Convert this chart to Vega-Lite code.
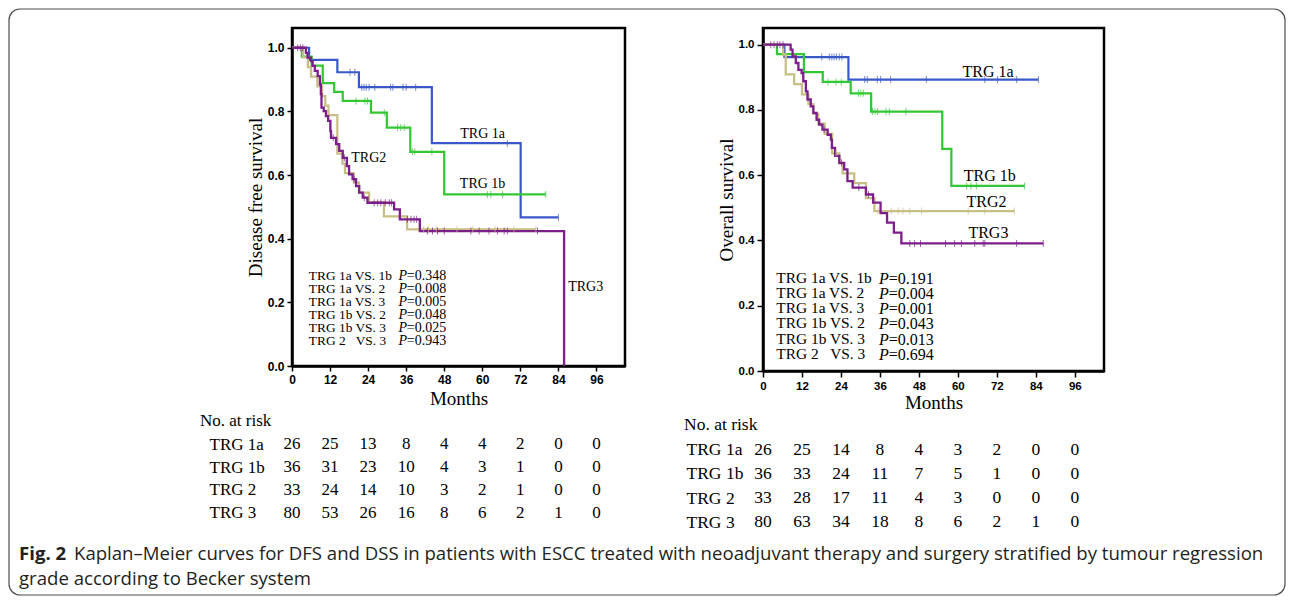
{
  "$schema": "https://vega.github.io/schema/vega-lite/v6.json",
  "padding": {"left": 8, "top": 8, "right": 0, "bottom": 0},
  "background": "white",
  "datasets": {
    "steps": [
      {"panel":"DFS","group":"TRG 1a","t":0,"s":1},{"panel":"DFS","group":"TRG 1a","t":5.4,"s":0.962},{"panel":"DFS","group":"TRG 1a","t":14.3,"s":0.923},{"panel":"DFS","group":"TRG 1a","t":21.1,"s":0.876},{"panel":"DFS","group":"TRG 1a","t":44.1,"s":0.700},{"panel":"DFS","group":"TRG 1a","t":72.1,"s":0.467},{"panel":"DFS","group":"TRG 1a","t":84,"s":0.467},
      {"panel":"DFS","group":"TRG 1b","t":0,"s":1},{"panel":"DFS","group":"TRG 1b","t":3.1,"s":0.972},{"panel":"DFS","group":"TRG 1b","t":6.2,"s":0.944},{"panel":"DFS","group":"TRG 1b","t":9.7,"s":0.889},{"panel":"DFS","group":"TRG 1b","t":13.3,"s":0.861},{"panel":"DFS","group":"TRG 1b","t":16.0,"s":0.833},{"panel":"DFS","group":"TRG 1b","t":24.9,"s":0.796},{"panel":"DFS","group":"TRG 1b","t":29.9,"s":0.749},{"panel":"DFS","group":"TRG 1b","t":37.3,"s":0.673},{"panel":"DFS","group":"TRG 1b","t":48.0,"s":0.539},{"panel":"DFS","group":"TRG 1b","t":80,"s":0.539},
      {"panel":"DFS","group":"TRG 2","t":0,"s":1},{"panel":"DFS","group":"TRG 2","t":3.5,"s":0.970},{"panel":"DFS","group":"TRG 2","t":5.0,"s":0.939},{"panel":"DFS","group":"TRG 2","t":6.0,"s":0.909},{"panel":"DFS","group":"TRG 2","t":8.0,"s":0.879},{"panel":"DFS","group":"TRG 2","t":9.5,"s":0.848},{"panel":"DFS","group":"TRG 2","t":10.5,"s":0.818},{"panel":"DFS","group":"TRG 2","t":11.5,"s":0.788},{"panel":"DFS","group":"TRG 2","t":14.3,"s":0.667},{"panel":"DFS","group":"TRG 2","t":15.9,"s":0.636},{"panel":"DFS","group":"TRG 2","t":16.7,"s":0.606},{"panel":"DFS","group":"TRG 2","t":19.5,"s":0.576},{"panel":"DFS","group":"TRG 2","t":21.1,"s":0.545},{"panel":"DFS","group":"TRG 2","t":24.3,"s":0.515},{"panel":"DFS","group":"TRG 2","t":29.0,"s":0.470},{"panel":"DFS","group":"TRG 2","t":36.3,"s":0.429},{"panel":"DFS","group":"TRG 2","t":76.9,"s":0.429},
      {"panel":"DFS","group":"TRG 3","t":0,"s":1},{"panel":"DFS","group":"TRG 3","t":4.4,"s":0.984},{"panel":"DFS","group":"TRG 3","t":4.9,"s":0.969},{"panel":"DFS","group":"TRG 3","t":6.0,"s":0.958},{"panel":"DFS","group":"TRG 3","t":6.5,"s":0.943},{"panel":"DFS","group":"TRG 3","t":7.2,"s":0.927},{"panel":"DFS","group":"TRG 3","t":8.1,"s":0.911},{"panel":"DFS","group":"TRG 3","t":8.8,"s":0.885},{"panel":"DFS","group":"TRG 3","t":9.1,"s":0.854},{"panel":"DFS","group":"TRG 3","t":9.3,"s":0.812},{"panel":"DFS","group":"TRG 3","t":10.0,"s":0.801},{"panel":"DFS","group":"TRG 3","t":10.7,"s":0.785},{"panel":"DFS","group":"TRG 3","t":11.4,"s":0.770},{"panel":"DFS","group":"TRG 3","t":12.1,"s":0.738},{"panel":"DFS","group":"TRG 3","t":12.3,"s":0.717},{"panel":"DFS","group":"TRG 3","t":13.9,"s":0.697},{"panel":"DFS","group":"TRG 3","t":14.9,"s":0.676},{"panel":"DFS","group":"TRG 3","t":16.0,"s":0.654},{"panel":"DFS","group":"TRG 3","t":17.3,"s":0.628},{"panel":"DFS","group":"TRG 3","t":18.0,"s":0.602},{"panel":"DFS","group":"TRG 3","t":19.1,"s":0.587},{"panel":"DFS","group":"TRG 3","t":20.2,"s":0.565},{"panel":"DFS","group":"TRG 3","t":21.2,"s":0.545},{"panel":"DFS","group":"TRG 3","t":22.3,"s":0.529},{"panel":"DFS","group":"TRG 3","t":23.8,"s":0.513},{"panel":"DFS","group":"TRG 3","t":32.2,"s":0.492},{"panel":"DFS","group":"TRG 3","t":34.0,"s":0.461},{"panel":"DFS","group":"TRG 3","t":40.3,"s":0.424},{"panel":"DFS","group":"TRG 3","t":85.8,"s":0},
      {"panel":"OS","group":"TRG 1a","t":0,"s":1},{"panel":"OS","group":"TRG 1a","t":6.6,"s":0.962},{"panel":"OS","group":"TRG 1a","t":26.3,"s":0.893},{"panel":"OS","group":"TRG 1a","t":84.8,"s":0.893},
      {"panel":"OS","group":"TRG 1b","t":0,"s":1},{"panel":"OS","group":"TRG 1b","t":4.3,"s":0.971},{"panel":"OS","group":"TRG 1b","t":12.6,"s":0.916},{"panel":"OS","group":"TRG 1b","t":18.4,"s":0.886},{"panel":"OS","group":"TRG 1b","t":27.0,"s":0.851},{"panel":"OS","group":"TRG 1b","t":33.3,"s":0.795},{"panel":"OS","group":"TRG 1b","t":55.2,"s":0.681},{"panel":"OS","group":"TRG 1b","t":58.0,"s":0.567},{"panel":"OS","group":"TRG 1b","t":80.5,"s":0.567},
      {"panel":"OS","group":"TRG 2","t":0,"s":1},{"panel":"OS","group":"TRG 2","t":6.2,"s":0.970},{"panel":"OS","group":"TRG 2","t":7.0,"s":0.909},{"panel":"OS","group":"TRG 2","t":9.6,"s":0.879},{"panel":"OS","group":"TRG 2","t":12.0,"s":0.848},{"panel":"OS","group":"TRG 2","t":14.0,"s":0.818},{"panel":"OS","group":"TRG 2","t":15.5,"s":0.788},{"panel":"OS","group":"TRG 2","t":17.0,"s":0.758},{"panel":"OS","group":"TRG 2","t":19.0,"s":0.727},{"panel":"OS","group":"TRG 2","t":21.3,"s":0.667},{"panel":"OS","group":"TRG 2","t":23.5,"s":0.636},{"panel":"OS","group":"TRG 2","t":24.5,"s":0.606},{"panel":"OS","group":"TRG 2","t":28.1,"s":0.576},{"panel":"OS","group":"TRG 2","t":31.7,"s":0.530},{"panel":"OS","group":"TRG 2","t":34.3,"s":0.490},{"panel":"OS","group":"TRG 2","t":77.4,"s":0.490},
      {"panel":"OS","group":"TRG 3","t":0,"s":1},{"panel":"OS","group":"TRG 3","t":8.5,"s":0.985},{"panel":"OS","group":"TRG 3","t":9.1,"s":0.964},{"panel":"OS","group":"TRG 3","t":10.1,"s":0.944},{"panel":"OS","group":"TRG 3","t":10.9,"s":0.923},{"panel":"OS","group":"TRG 3","t":11.9,"s":0.913},{"panel":"OS","group":"TRG 3","t":12.4,"s":0.888},{"panel":"OS","group":"TRG 3","t":13.2,"s":0.857},{"panel":"OS","group":"TRG 3","t":13.7,"s":0.832},{"panel":"OS","group":"TRG 3","t":14.7,"s":0.811},{"panel":"OS","group":"TRG 3","t":15.5,"s":0.791},{"panel":"OS","group":"TRG 3","t":16.5,"s":0.770},{"panel":"OS","group":"TRG 3","t":17.3,"s":0.755},{"panel":"OS","group":"TRG 3","t":18.3,"s":0.740},{"panel":"OS","group":"TRG 3","t":19.9,"s":0.724},{"panel":"OS","group":"TRG 3","t":20.9,"s":0.709},{"panel":"OS","group":"TRG 3","t":21.2,"s":0.684},{"panel":"OS","group":"TRG 3","t":22.2,"s":0.659},{"panel":"OS","group":"TRG 3","t":23.5,"s":0.638},{"panel":"OS","group":"TRG 3","t":25.0,"s":0.618},{"panel":"OS","group":"TRG 3","t":26.0,"s":0.582},{"panel":"OS","group":"TRG 3","t":27.6,"s":0.562},{"panel":"OS","group":"TRG 3","t":31.7,"s":0.541},{"panel":"OS","group":"TRG 3","t":33.9,"s":0.516},{"panel":"OS","group":"TRG 3","t":36.2,"s":0.484},{"panel":"OS","group":"TRG 3","t":38.2,"s":0.455},{"panel":"OS","group":"TRG 3","t":40.3,"s":0.424},{"panel":"OS","group":"TRG 3","t":42.6,"s":0.391},{"panel":"OS","group":"TRG 3","t":86.3,"s":0.391}
    ],
    "censor": [
      {"panel":"DFS","group":"TRG 1a","t":18.3,"s":0.923},{"panel":"DFS","group":"TRG 1a","t":19.8,"s":0.923},{"panel":"DFS","group":"TRG 1a","t":22.0,"s":0.876},{"panel":"DFS","group":"TRG 1a","t":22.7,"s":0.876},{"panel":"DFS","group":"TRG 1a","t":23.4,"s":0.876},{"panel":"DFS","group":"TRG 1a","t":24.3,"s":0.876},{"panel":"DFS","group":"TRG 1a","t":26.1,"s":0.876},{"panel":"DFS","group":"TRG 1a","t":31.1,"s":0.876},{"panel":"DFS","group":"TRG 1a","t":31.8,"s":0.876},{"panel":"DFS","group":"TRG 1a","t":35.0,"s":0.876},{"panel":"DFS","group":"TRG 1a","t":36.0,"s":0.876},{"panel":"DFS","group":"TRG 1a","t":39.0,"s":0.876},{"panel":"DFS","group":"TRG 1a","t":67.9,"s":0.700},{"panel":"DFS","group":"TRG 1a","t":84,"s":0.467},
      {"panel":"DFS","group":"TRG 1b","t":20.2,"s":0.833},{"panel":"DFS","group":"TRG 1b","t":23.0,"s":0.833},{"panel":"DFS","group":"TRG 1b","t":23.8,"s":0.833},{"panel":"DFS","group":"TRG 1b","t":29.1,"s":0.796},{"panel":"DFS","group":"TRG 1b","t":33.3,"s":0.749},{"panel":"DFS","group":"TRG 1b","t":34.3,"s":0.749},{"panel":"DFS","group":"TRG 1b","t":35.4,"s":0.749},{"panel":"DFS","group":"TRG 1b","t":38.0,"s":0.673},{"panel":"DFS","group":"TRG 1b","t":38.7,"s":0.673},{"panel":"DFS","group":"TRG 1b","t":44.1,"s":0.673},{"panel":"DFS","group":"TRG 1b","t":61.6,"s":0.539},{"panel":"DFS","group":"TRG 1b","t":62.7,"s":0.539},{"panel":"DFS","group":"TRG 1b","t":66.4,"s":0.539},{"panel":"DFS","group":"TRG 1b","t":80,"s":0.539},
      {"panel":"DFS","group":"TRG 2","t":41.5,"s":0.429},{"panel":"DFS","group":"TRG 2","t":43.0,"s":0.429},{"panel":"DFS","group":"TRG 2","t":45.5,"s":0.429},{"panel":"DFS","group":"TRG 2","t":52.0,"s":0.429},{"panel":"DFS","group":"TRG 2","t":57.0,"s":0.429},{"panel":"DFS","group":"TRG 2","t":64.0,"s":0.429},{"panel":"DFS","group":"TRG 2","t":70.0,"s":0.429},{"panel":"DFS","group":"TRG 2","t":76.9,"s":0.429},
      {"panel":"DFS","group":"TRG 3","t":1.8,"s":1},{"panel":"DFS","group":"TRG 3","t":2.6,"s":1},{"panel":"DFS","group":"TRG 3","t":3.4,"s":1},{"panel":"DFS","group":"TRG 3","t":13.0,"s":0.717},{"panel":"DFS","group":"TRG 3","t":16.5,"s":0.654},{"panel":"DFS","group":"TRG 3","t":19.6,"s":0.587},{"panel":"DFS","group":"TRG 3","t":22.8,"s":0.529},{"panel":"DFS","group":"TRG 3","t":25.9,"s":0.513},{"panel":"DFS","group":"TRG 3","t":27.0,"s":0.513},{"panel":"DFS","group":"TRG 3","t":28.0,"s":0.513},{"panel":"DFS","group":"TRG 3","t":29.4,"s":0.513},{"panel":"DFS","group":"TRG 3","t":30.7,"s":0.513},{"panel":"DFS","group":"TRG 3","t":31.4,"s":0.513},{"panel":"DFS","group":"TRG 3","t":36.4,"s":0.461},{"panel":"DFS","group":"TRG 3","t":37.5,"s":0.461},{"panel":"DFS","group":"TRG 3","t":38.5,"s":0.461},{"panel":"DFS","group":"TRG 3","t":39.3,"s":0.461},{"panel":"DFS","group":"TRG 3","t":42.7,"s":0.424},{"panel":"DFS","group":"TRG 3","t":44.3,"s":0.424},{"panel":"DFS","group":"TRG 3","t":45.9,"s":0.424},{"panel":"DFS","group":"TRG 3","t":48.0,"s":0.424},{"panel":"DFS","group":"TRG 3","t":56.4,"s":0.424},{"panel":"DFS","group":"TRG 3","t":59.0,"s":0.424},{"panel":"DFS","group":"TRG 3","t":62.1,"s":0.424},{"panel":"DFS","group":"TRG 3","t":64.8,"s":0.424},{"panel":"DFS","group":"TRG 3","t":66.9,"s":0.424},{"panel":"DFS","group":"TRG 3","t":67.9,"s":0.424},{"panel":"DFS","group":"TRG 3","t":77.4,"s":0.424},
      {"panel":"OS","group":"TRG 1a","t":18.1,"s":0.962},{"panel":"OS","group":"TRG 1a","t":20.4,"s":0.962},{"panel":"OS","group":"TRG 1a","t":21.2,"s":0.962},{"panel":"OS","group":"TRG 1a","t":21.9,"s":0.962},{"panel":"OS","group":"TRG 1a","t":22.6,"s":0.962},{"panel":"OS","group":"TRG 1a","t":23.5,"s":0.962},{"panel":"OS","group":"TRG 1a","t":24.3,"s":0.962},{"panel":"OS","group":"TRG 1a","t":31.3,"s":0.893},{"panel":"OS","group":"TRG 1a","t":32.1,"s":0.893},{"panel":"OS","group":"TRG 1a","t":35.2,"s":0.893},{"panel":"OS","group":"TRG 1a","t":36.2,"s":0.893},{"panel":"OS","group":"TRG 1a","t":39.3,"s":0.893},{"panel":"OS","group":"TRG 1a","t":50.3,"s":0.893},{"panel":"OS","group":"TRG 1a","t":68.3,"s":0.893},{"panel":"OS","group":"TRG 1a","t":72.2,"s":0.893},{"panel":"OS","group":"TRG 1a","t":78.1,"s":0.893},{"panel":"OS","group":"TRG 1a","t":84.8,"s":0.893},
      {"panel":"OS","group":"TRG 1b","t":20.0,"s":0.886},{"panel":"OS","group":"TRG 1b","t":22.5,"s":0.886},{"panel":"OS","group":"TRG 1b","t":24.1,"s":0.886},{"panel":"OS","group":"TRG 1b","t":29.4,"s":0.851},{"panel":"OS","group":"TRG 1b","t":30.1,"s":0.851},{"panel":"OS","group":"TRG 1b","t":30.9,"s":0.851},{"panel":"OS","group":"TRG 1b","t":33.7,"s":0.795},{"panel":"OS","group":"TRG 1b","t":34.5,"s":0.795},{"panel":"OS","group":"TRG 1b","t":35.3,"s":0.795},{"panel":"OS","group":"TRG 1b","t":37.9,"s":0.795},{"panel":"OS","group":"TRG 1b","t":38.9,"s":0.795},{"panel":"OS","group":"TRG 1b","t":44.0,"s":0.795},{"panel":"OS","group":"TRG 1b","t":62.7,"s":0.567},{"panel":"OS","group":"TRG 1b","t":64.0,"s":0.567},{"panel":"OS","group":"TRG 1b","t":65.7,"s":0.567},{"panel":"OS","group":"TRG 1b","t":80.5,"s":0.567},
      {"panel":"OS","group":"TRG 2","t":22.5,"s":0.667},{"panel":"OS","group":"TRG 2","t":35.4,"s":0.490},{"panel":"OS","group":"TRG 2","t":39.5,"s":0.490},{"panel":"OS","group":"TRG 2","t":41.6,"s":0.490},{"panel":"OS","group":"TRG 2","t":43.1,"s":0.490},{"panel":"OS","group":"TRG 2","t":45.2,"s":0.490},{"panel":"OS","group":"TRG 2","t":48.8,"s":0.490},{"panel":"OS","group":"TRG 2","t":63.2,"s":0.490},{"panel":"OS","group":"TRG 2","t":68.3,"s":0.490},{"panel":"OS","group":"TRG 2","t":77.4,"s":0.490},
      {"panel":"OS","group":"TRG 3","t":2.4,"s":1},{"panel":"OS","group":"TRG 3","t":3.4,"s":1},{"panel":"OS","group":"TRG 3","t":4.4,"s":1},{"panel":"OS","group":"TRG 3","t":5.2,"s":1},{"panel":"OS","group":"TRG 3","t":6.2,"s":1},{"panel":"OS","group":"TRG 3","t":18.8,"s":0.740},{"panel":"OS","group":"TRG 3","t":24.2,"s":0.638},{"panel":"OS","group":"TRG 3","t":29.5,"s":0.562},{"panel":"OS","group":"TRG 3","t":32.5,"s":0.541},{"panel":"OS","group":"TRG 3","t":45.2,"s":0.391},{"panel":"OS","group":"TRG 3","t":46.7,"s":0.391},{"panel":"OS","group":"TRG 3","t":48.5,"s":0.391},{"panel":"OS","group":"TRG 3","t":56.2,"s":0.391},{"panel":"OS","group":"TRG 3","t":59.0,"s":0.391},{"panel":"OS","group":"TRG 3","t":61.1,"s":0.391},{"panel":"OS","group":"TRG 3","t":65.2,"s":0.391},{"panel":"OS","group":"TRG 3","t":67.8,"s":0.391},{"panel":"OS","group":"TRG 3","t":68.3,"s":0.391},{"panel":"OS","group":"TRG 3","t":78.1,"s":0.391},{"panel":"OS","group":"TRG 3","t":86.3,"s":0.391}
    ],
    "risk": [
      {"panel":"DFS","group":"TRG 1a","t":0,"n":26},{"panel":"DFS","group":"TRG 1a","t":12,"n":25},{"panel":"DFS","group":"TRG 1a","t":24,"n":13},{"panel":"DFS","group":"TRG 1a","t":36,"n":8},{"panel":"DFS","group":"TRG 1a","t":48,"n":4},{"panel":"DFS","group":"TRG 1a","t":60,"n":4},{"panel":"DFS","group":"TRG 1a","t":72,"n":2},{"panel":"DFS","group":"TRG 1a","t":84,"n":0},{"panel":"DFS","group":"TRG 1a","t":96,"n":0},
      {"panel":"DFS","group":"TRG 1b","t":0,"n":36},{"panel":"DFS","group":"TRG 1b","t":12,"n":31},{"panel":"DFS","group":"TRG 1b","t":24,"n":23},{"panel":"DFS","group":"TRG 1b","t":36,"n":10},{"panel":"DFS","group":"TRG 1b","t":48,"n":4},{"panel":"DFS","group":"TRG 1b","t":60,"n":3},{"panel":"DFS","group":"TRG 1b","t":72,"n":1},{"panel":"DFS","group":"TRG 1b","t":84,"n":0},{"panel":"DFS","group":"TRG 1b","t":96,"n":0},
      {"panel":"DFS","group":"TRG 2","t":0,"n":33},{"panel":"DFS","group":"TRG 2","t":12,"n":24},{"panel":"DFS","group":"TRG 2","t":24,"n":14},{"panel":"DFS","group":"TRG 2","t":36,"n":10},{"panel":"DFS","group":"TRG 2","t":48,"n":3},{"panel":"DFS","group":"TRG 2","t":60,"n":2},{"panel":"DFS","group":"TRG 2","t":72,"n":1},{"panel":"DFS","group":"TRG 2","t":84,"n":0},{"panel":"DFS","group":"TRG 2","t":96,"n":0},
      {"panel":"DFS","group":"TRG 3","t":0,"n":80},{"panel":"DFS","group":"TRG 3","t":12,"n":53},{"panel":"DFS","group":"TRG 3","t":24,"n":26},{"panel":"DFS","group":"TRG 3","t":36,"n":16},{"panel":"DFS","group":"TRG 3","t":48,"n":8},{"panel":"DFS","group":"TRG 3","t":60,"n":6},{"panel":"DFS","group":"TRG 3","t":72,"n":2},{"panel":"DFS","group":"TRG 3","t":84,"n":1},{"panel":"DFS","group":"TRG 3","t":96,"n":0},
      {"panel":"OS","group":"TRG 1a","t":0,"n":26},{"panel":"OS","group":"TRG 1a","t":12,"n":25},{"panel":"OS","group":"TRG 1a","t":24,"n":14},{"panel":"OS","group":"TRG 1a","t":36,"n":8},{"panel":"OS","group":"TRG 1a","t":48,"n":4},{"panel":"OS","group":"TRG 1a","t":60,"n":3},{"panel":"OS","group":"TRG 1a","t":72,"n":2},{"panel":"OS","group":"TRG 1a","t":84,"n":0},{"panel":"OS","group":"TRG 1a","t":96,"n":0},
      {"panel":"OS","group":"TRG 1b","t":0,"n":36},{"panel":"OS","group":"TRG 1b","t":12,"n":33},{"panel":"OS","group":"TRG 1b","t":24,"n":24},{"panel":"OS","group":"TRG 1b","t":36,"n":11},{"panel":"OS","group":"TRG 1b","t":48,"n":7},{"panel":"OS","group":"TRG 1b","t":60,"n":5},{"panel":"OS","group":"TRG 1b","t":72,"n":1},{"panel":"OS","group":"TRG 1b","t":84,"n":0},{"panel":"OS","group":"TRG 1b","t":96,"n":0},
      {"panel":"OS","group":"TRG 2","t":0,"n":33},{"panel":"OS","group":"TRG 2","t":12,"n":28},{"panel":"OS","group":"TRG 2","t":24,"n":17},{"panel":"OS","group":"TRG 2","t":36,"n":11},{"panel":"OS","group":"TRG 2","t":48,"n":4},{"panel":"OS","group":"TRG 2","t":60,"n":3},{"panel":"OS","group":"TRG 2","t":72,"n":0},{"panel":"OS","group":"TRG 2","t":84,"n":0},{"panel":"OS","group":"TRG 2","t":96,"n":0},
      {"panel":"OS","group":"TRG 3","t":0,"n":80},{"panel":"OS","group":"TRG 3","t":12,"n":63},{"panel":"OS","group":"TRG 3","t":24,"n":34},{"panel":"OS","group":"TRG 3","t":36,"n":18},{"panel":"OS","group":"TRG 3","t":48,"n":8},{"panel":"OS","group":"TRG 3","t":60,"n":6},{"panel":"OS","group":"TRG 3","t":72,"n":2},{"panel":"OS","group":"TRG 3","t":84,"n":1},{"panel":"OS","group":"TRG 3","t":96,"n":0}
    ]
  },
  "columns": 2,
  "spacing": {"row": 62, "column": 138},
  "bounds": "flush",
  "concat": [
    {
      "width": 333, "height": 338,
      "view": {"stroke": "black", "strokeWidth": 2.5},
      "layer": [
        {"data": {"name": "steps"}, "transform": [{"filter": "datum.panel === 'DFS'"}],
         "mark": {"type": "line", "interpolate": "step-after"},
         "encoding": {
           "x": {"field": "t", "type": "quantitative", "title": "Months",
             "scale": {"domain": [0, 105], "nice": false, "zero": false},
             "axis": {"values": [0,12,24,36,48,60,72,84,96], "labelFontSize": 12, "tickSize": 5, "labelPadding": 3, "titlePadding": 4, "titleFontSize": 19}},
           "y": {"field": "s", "type": "quantitative", "title": "Disease free survival",
             "scale": {"domain": [0, 1.062], "nice": false},
             "axis": {"values": [0,0.2,0.4,0.6,0.8,1], "format": ".1f", "labelFontSize": 12, "tickSize": 5, "labelPadding": 3, "titlePadding": 2, "titleFontSize": 19}},
           "color": {"field": "group", "type": "nominal", "scale": {"domain": ["TRG 1a","TRG 1b","TRG 2","TRG 3"], "range": ["#3a58c8","#33c733","#c8bf84","#7d1f8a"]}, "legend": null},
           "strokeWidth": {"field": "group", "type": "nominal", "scale": {"domain": ["TRG 1a","TRG 1b","TRG 2","TRG 3"], "range": [2.2, 2.3, 2, 2.7]}, "legend": null}}},
        {"data": {"name": "censor"}, "transform": [{"filter": "datum.panel === 'DFS'"}],
         "mark": {"type": "tick", "orient": "vertical", "size": 7, "thickness": 1},
         "encoding": {
           "x": {"field": "t", "type": "quantitative", "title": "Months"},
           "y": {"field": "s", "type": "quantitative", "title": "Disease free survival"},
           "color": {"field": "group", "type": "nominal", "legend": null}}},
        {"data": {"values": [{}]}, "mark": {"type": "text", "font": "Liberation Serif", "fontSize": 14, "align": "center", "baseline": "middle", "color": "black"},
         "encoding": {"x": {"datum": 60.1, "type": "quantitative"}, "y": {"datum": 0.728, "type": "quantitative"}, "text": {"value": "TRG 1a"}}},
        {"data": {"values": [{}]}, "mark": {"type": "text", "font": "Liberation Serif", "fontSize": 14, "align": "center", "baseline": "middle", "color": "black"},
         "encoding": {"x": {"datum": 60.1, "type": "quantitative"}, "y": {"datum": 0.571, "type": "quantitative"}, "text": {"value": "TRG 1b"}}},
        {"data": {"values": [{}]}, "mark": {"type": "text", "font": "Liberation Serif", "fontSize": 14, "align": "center", "baseline": "middle", "color": "black"},
         "encoding": {"x": {"datum": 24.2, "type": "quantitative"}, "y": {"datum": 0.654, "type": "quantitative"}, "text": {"value": "TRG2"}}},
        {"data": {"values": [{}]}, "mark": {"type": "text", "font": "Liberation Serif", "fontSize": 14, "align": "center", "baseline": "middle", "color": "black"},
         "encoding": {"x": {"datum": 92.6, "type": "quantitative"}, "y": {"datum": 0.248, "type": "quantitative"}, "text": {"value": "TRG3"}}},
        {"data": {"values": [{}]}, "mark": {"type": "text", "font": "Liberation Serif", "fontSize": 13.4, "align": "left", "baseline": "top", "lineBreak": "\n", "lineHeight": 13.06, "color": "black"},
         "encoding": {"x": {"datum": 5.3, "type": "quantitative"}, "y": {"datum": 0.306, "type": "quantitative"}, "text": {"value": "TRG 1a VS. 1b\nTRG 1a VS. 2\nTRG 1a VS. 3\nTRG 1b VS. 2\nTRG 1b VS. 3\nTRG 2\u00a0\u00a0\u00a0VS. 3"}}},
        {"data": {"values": [{}]}, "mark": {"type": "text", "font": "Liberation Serif", "fontSize": 14, "fontStyle": "italic", "align": "left", "baseline": "top", "lineBreak": "\n", "lineHeight": 13.06, "color": "black"},
         "encoding": {"x": {"datum": 33.6, "type": "quantitative"}, "y": {"datum": 0.306, "type": "quantitative"}, "text": {"value": "P\nP\nP\nP\nP\nP"}}},
        {"data": {"values": [{}]}, "mark": {"type": "text", "font": "Liberation Serif", "fontSize": 14, "align": "left", "baseline": "top", "lineBreak": "\n", "lineHeight": 13.06, "color": "black"},
         "encoding": {"x": {"datum": 36.2, "type": "quantitative"}, "y": {"datum": 0.306, "type": "quantitative"}, "text": {"value": "=0.348\n=0.008\n=0.005\n=0.048\n=0.025\n=0.943"}}}
      ]
    },
    {
      "width": 341, "height": 343,
      "view": {"stroke": "black", "strokeWidth": 2.5},
      "layer": [
        {"data": {"name": "steps"}, "transform": [{"filter": "datum.panel === 'OS'"}],
         "mark": {"type": "line", "interpolate": "step-after"},
         "encoding": {
           "x": {"field": "t", "type": "quantitative", "title": "Months",
             "scale": {"domain": [0, 105], "nice": false, "zero": false},
             "axis": {"values": [0,12,24,36,48,60,72,84,96], "labelFontSize": 11.5, "tickSize": 6, "labelPadding": 3, "titlePadding": 2, "titleFontSize": 19}},
           "y": {"field": "s", "type": "quantitative", "title": "Overall survival",
             "scale": {"domain": [0, 1.0512], "nice": false},
             "axis": {"values": [0,0.2,0.4,0.6,0.8,1], "format": ".1f", "labelFontSize": 11.5, "tickSize": 6, "labelPadding": 3, "titlePadding": 1.5, "titleFontSize": 19}},
           "color": {"field": "group", "type": "nominal", "scale": {"domain": ["TRG 1a","TRG 1b","TRG 2","TRG 3"], "range": ["#3a58c8","#33c733","#c8bf84","#7d1f8a"]}, "legend": null},
           "strokeWidth": {"field": "group", "type": "nominal", "scale": {"domain": ["TRG 1a","TRG 1b","TRG 2","TRG 3"], "range": [2.2, 2.3, 2, 2.7]}, "legend": null}}},
        {"data": {"name": "censor"}, "transform": [{"filter": "datum.panel === 'OS'"}],
         "mark": {"type": "tick", "orient": "vertical", "size": 7, "thickness": 1},
         "encoding": {
           "x": {"field": "t", "type": "quantitative", "title": "Months"},
           "y": {"field": "s", "type": "quantitative", "title": "Overall survival"},
           "color": {"field": "group", "type": "nominal", "legend": null}}},
        {"data": {"values": [{}]}, "mark": {"type": "text", "font": "Liberation Serif", "fontSize": 16, "align": "center", "baseline": "middle", "color": "black"},
         "encoding": {"x": {"datum": 69.3, "type": "quantitative"}, "y": {"datum": 0.916, "type": "quantitative"}, "text": {"value": "TRG 1a"}}},
        {"data": {"values": [{}]}, "mark": {"type": "text", "font": "Liberation Serif", "fontSize": 16, "align": "center", "baseline": "middle", "color": "black"},
         "encoding": {"x": {"datum": 69.8, "type": "quantitative"}, "y": {"datum": 0.598, "type": "quantitative"}, "text": {"value": "TRG 1b"}}},
        {"data": {"values": [{}]}, "mark": {"type": "text", "font": "Liberation Serif", "fontSize": 16, "align": "center", "baseline": "middle", "color": "black"},
         "encoding": {"x": {"datum": 68.8, "type": "quantitative"}, "y": {"datum": 0.518, "type": "quantitative"}, "text": {"value": "TRG2"}}},
        {"data": {"values": [{}]}, "mark": {"type": "text", "font": "Liberation Serif", "fontSize": 16, "align": "center", "baseline": "middle", "color": "black"},
         "encoding": {"x": {"datum": 69.4, "type": "quantitative"}, "y": {"datum": 0.424, "type": "quantitative"}, "text": {"value": "TRG3"}}},
        {"data": {"values": [{}]}, "mark": {"type": "text", "font": "Liberation Serif", "fontSize": 15.4, "align": "left", "baseline": "top", "lineBreak": "\n", "lineHeight": 15.2, "color": "black"},
         "encoding": {"x": {"datum": 4.1, "type": "quantitative"}, "y": {"datum": 0.307, "type": "quantitative"}, "text": {"value": "TRG 1a VS. 1b\nTRG 1a VS. 2\nTRG 1a VS. 3\nTRG 1b VS. 2\nTRG 1b VS. 3\nTRG 2\u00a0\u00a0\u00a0VS. 3"}}},
        {"data": {"values": [{}]}, "mark": {"type": "text", "font": "Liberation Serif", "fontSize": 16, "fontStyle": "italic", "align": "left", "baseline": "top", "lineBreak": "\n", "lineHeight": 15.2, "color": "black"},
         "encoding": {"x": {"datum": 35.7, "type": "quantitative"}, "y": {"datum": 0.307, "type": "quantitative"}, "text": {"value": "P\nP\nP\nP\nP\nP"}}},
        {"data": {"values": [{}]}, "mark": {"type": "text", "font": "Liberation Serif", "fontSize": 16, "align": "left", "baseline": "top", "lineBreak": "\n", "lineHeight": 15.2, "color": "black"},
         "encoding": {"x": {"datum": 38.7, "type": "quantitative"}, "y": {"datum": 0.307, "type": "quantitative"}, "text": {"value": "=0.191\n=0.004\n=0.001\n=0.043\n=0.013\n=0.694"}}}
      ]
    },
    {
      "width": 333, "height": 91,
      "layer": [
        {"data": {"name": "risk"}, "transform": [{"filter": "datum.panel === 'DFS'"}],
         "mark": {"type": "text", "font": "Liberation Serif", "fontSize": 17, "color": "black"},
         "encoding": {
           "x": {"field": "t", "type": "quantitative", "scale": {"domain": [0, 105], "nice": false, "zero": false}, "axis": null},
           "y": {"field": "group", "type": "nominal", "scale": {"type": "point", "domain": ["TRG 1a","TRG 1b","TRG 2","TRG 3"], "padding": 0.5},
             "axis": {"title": null, "domain": false, "ticks": false, "tickSize": 0, "labelAlign": "left", "labelPadding": 83, "labelFont": "Liberation Serif", "labelFontWeight": "normal", "labelFontSize": 17, "labelColor": "black"}},
           "text": {"field": "n", "type": "quantitative"}
         }},
        {"data": {"values": [{}]},
         "layer": [
           {"mark": {"type": "rect", "fill": "white", "fillOpacity": 0, "stroke": "#4d4d4d", "strokeWidth": 1.2, "cornerRadius": 11},
            "encoding": {
              "x": {"datum": -283, "type": "quantitative", "scale": {"domain": [0, 333], "nice": false, "zero": false}, "axis": null},
              "x2": {"datum": 993},
              "y": {"datum": -424, "type": "quantitative", "scale": {"domain": [0, 91], "nice": false, "zero": false, "reverse": true}, "axis": null},
              "y2": {"datum": 162}}},
           {"mark": {"type": "text", "font": "Liberation Serif", "fontSize": 17, "align": "left", "baseline": "middle", "color": "black"},
            "encoding": {"x": {"datum": -92, "type": "quantitative"}, "y": {"datum": -12, "type": "quantitative"}, "text": {"value": "No. at risk"}}},
           {"mark": {"type": "text", "font": "Open Sans", "fontSize": 18.6, "fontWeight": "bold", "align": "left", "baseline": "middle", "color": "#231f20"},
            "encoding": {"x": {"datum": -273, "type": "quantitative"}, "y": {"datum": 121, "type": "quantitative"}, "text": {"value": "Fig. 2"}}},
           {"mark": {"type": "text", "font": "Open Sans", "fontSize": 18.6, "align": "left", "baseline": "middle", "color": "#231f20"},
            "encoding": {"x": {"datum": -218, "type": "quantitative"}, "y": {"datum": 121, "type": "quantitative"}, "text": {"value": "Kaplan–Meier curves for DFS and DSS in patients with ESCC treated with neoadjuvant therapy and surgery stratified by tumour regression"}}},
           {"mark": {"type": "text", "font": "Open Sans", "fontSize": 18.6, "align": "left", "baseline": "middle", "color": "#231f20"},
            "encoding": {"x": {"datum": -273, "type": "quantitative"}, "y": {"datum": 146, "type": "quantitative"}, "text": {"value": "grade according to Becker system"}}}
         ]}
      ],
      "resolve": {"scale": {"x": "independent", "y": "independent"}, "axis": {"x": "independent", "y": "independent"}}
    },
    {
      "width": 341, "height": 106,
      "title": {"text": "No. at risk", "anchor": "start", "frame": "group", "dx": -79, "offset": 0, "font": "Liberation Serif", "fontSize": 17.5, "fontWeight": "normal", "color": "black"},
      "data": {"name": "risk"}, "transform": [{"filter": "datum.panel === 'OS'"}],
      "mark": {"type": "text", "font": "Liberation Serif", "fontSize": 17.5, "color": "black"},
      "encoding": {
        "x": {"field": "t", "type": "quantitative", "scale": {"domain": [0, 105], "nice": false, "zero": false}, "axis": null},
        "y": {"field": "group", "type": "nominal", "scale": {"type": "point", "domain": ["TRG 1a","TRG 1b","TRG 2","TRG 3"], "padding": 0.708},
          "axis": {"title": null, "domain": false, "ticks": false, "tickSize": 0, "labelAlign": "left", "labelPadding": 77, "labelFont": "Liberation Serif", "labelFontWeight": "normal", "labelFontSize": 17.5, "labelColor": "black"}},
        "text": {"field": "n", "type": "quantitative"}
      }
    }
  ],
  "config": {
    "view": {"stroke": null},
    "axis": {"grid": false, "domainColor": "black", "domainWidth": 2.5, "tickColor": "black", "tickWidth": 1.5, "labelFont": "Liberation Sans", "labelFontWeight": "bold", "labelColor": "black", "titleFont": "Liberation Serif", "titleFontWeight": "normal", "titleColor": "black", "labelFlush": false, "labelOverlap": false},
    "text": {"font": "Liberation Serif", "color": "black"}
  }
}
